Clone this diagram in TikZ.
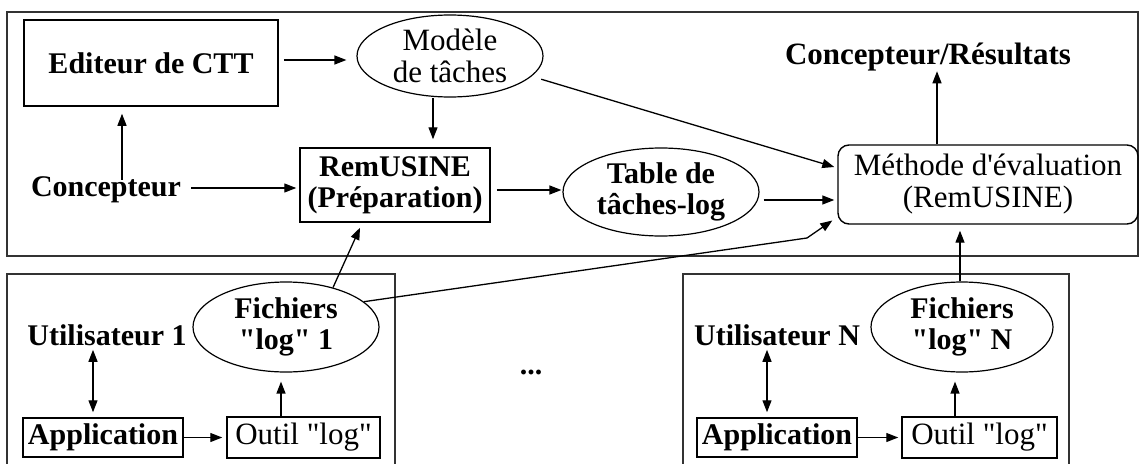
\documentclass[tikz,border=0pt]{standalone}
\usepackage{fontspec}
\setmainfont{Liberation Serif}[Ligatures=TeXOff]
\usetikzlibrary{arrows.meta,shapes.geometric}

\tikzset{
  lbl/.style={font=\bfseries\fontsize{30}{31}\selectfont, align=center, inner sep=0pt},
  lbllight/.style={font=\fontsize{31}{32}\selectfont, align=center, inner sep=0pt},
  boxed/.style={draw, rectangle, line width=1.5pt, inner sep=0pt},
  oval/.style={draw, ellipse, line width=1.2pt, inner sep=0pt},
  rbox/.style={draw, rectangle, rounded corners=11pt, line width=1.4pt, inner sep=0pt},
  arr/.style={-{Triangle[length=12pt,width=9pt]}, line width=1.3pt},
  darr/.style={{Triangle[length=12pt,width=9pt]}-{Triangle[length=12pt,width=9pt]}, line width=1.3pt},
  frame/.style={line width=1.8pt, draw=black!80},
}

\begin{document}
\begin{tikzpicture}[x=1pt, y=-1pt]
  \useasboundingbox[fill=white] (0,0) rectangle (1140,463);

  % group frames
  \draw[frame] (7,12) rectangle (1138,256);
  \draw[frame] (7,470) -- (7,274) -- (395,274) -- (395,470);
  \draw[frame] (683,470) -- (683,274) -- (1069,274) -- (1069,470);

  % upper part
  \node[boxed, lbl, minimum width=254pt, minimum height=86pt] (editeur) at (151,63) {Editeur de CTT};
  \node[oval, lbllight, minimum width=186pt, minimum height=82pt] (modele) at (450,56) {Modèle\\de tâches};
  \node[lbl] (concepteur) at (106,190) {Concepteur};
  \node[boxed, lbl, minimum width=190pt, minimum height=74pt] (remusine) at (395,185) {RemUSINE\\(Préparation)};
  \node[oval, lbl, minimum width=196pt, minimum height=88pt] (table) at (661,192) {Table de\\tâches-log};
  \node[rbox, lbllight, minimum width=300pt, minimum height=79pt] (methode) at (988,184.5) {Méthode d'évaluation\\(RemUSINE)};
  \node[lbl, font=\bfseries\fontsize{31}{32}\selectfont] (resultats) at (928,57) {Concepteur/Résultats};

  % lower left group
  \node[oval, lbl, minimum width=186pt, minimum height=90pt] (fich1) at (286,327) {Fichiers\\"log" 1};
  \node[lbl] (util1) at (107,335) {Utilisateur 1};
  \node[boxed, lbl, minimum width=160pt, minimum height=39pt] (app1) at (103,437.5) {Application};
  \node[boxed, lbllight, minimum width=153pt, minimum height=41pt] (outil1) at (303.5,437.5) {Outil "log"};

  \node[lbl] (dots) at (531,372) {...};

  % lower right group
  \node[oval, lbl, minimum width=182pt, minimum height=90pt] (fichN) at (962,327) {Fichiers\\"log" N};
  \node[lbl] (utilN) at (777,335) {Utilisateur N};
  \node[boxed, lbl, minimum width=160pt, minimum height=39pt] (appN) at (777,437.5) {Application};
  \node[boxed, lbllight, minimum width=155pt, minimum height=41pt] (outilN) at (979.5,437.5) {Outil "log"};

  % connectors of the upper part
  \draw[arr] ([shift={(5,-3)}]editeur.east) -- ([shift={(-10,4)}]modele.west);
  \draw[arr] ([xshift=-17]modele.south) -- ([shift={(38,-8)}]remusine.north);
  \draw[arr] ([xshift=16,yshift=-3]concepteur.north) -- ([shift={(-29,7)}]editeur.south);
  \draw[arr] ([shift={(10,-2)}]concepteur.east) -- ([shift={(-3,3)}]remusine.west);
  \draw[arr] ([shift={(6,5)}]remusine.east) -- ([shift={(-1,-2)}]table.west);
  \draw[arr] ([shift={(4,8)}]table.east) -- ([shift={(-3,15.5)}]methode.west);
  \draw[arr, shorten <=10pt] (modele.-14) -- ([shift={(-3,-17.5)}]methode.west);
  \draw[arr] ([xshift=-51]methode.north) -- ([xshift=-51]methode.north |- resultats.south);

  % connectors of the log files
  \coordinate (bend1) at (807,238);
  \draw[arr] (fich1.40) -- ([shift={(-35,5)}]remusine.south);
  \draw[arr] (fich1.18) -- (bend1) -- ([shift={(-5,36)}]methode.west);
  \draw[arr] ([xshift=-2]fichN.north) -- ([shift={(-28,6)}]methode.south);

  % connectors inside the user groups
  \draw[darr, shorten <=4pt, shorten >=5pt] ([xshift=-10]app1.north |- util1.south) -- ([xshift=-10]app1.north);
  \draw[arr, shorten >=4pt] (app1.east) -- (outil1.west);
  \draw[arr, shorten >=9pt] ([xshift=-22.5]outil1.north) -- ([xshift=-22.5]outil1.north |- fich1.south);

  \draw[darr, shorten <=4pt, shorten >=5pt] ([xshift=-10]appN.north |- utilN.south) -- ([xshift=-10]appN.north);
  \draw[arr, shorten >=3pt] (appN.east) -- (outilN.west);
  \draw[arr, shorten >=9pt] ([xshift=-24.5]outilN.north) -- ([xshift=-24.5]outilN.north |- fichN.south);
\end{tikzpicture}
\end{document}
